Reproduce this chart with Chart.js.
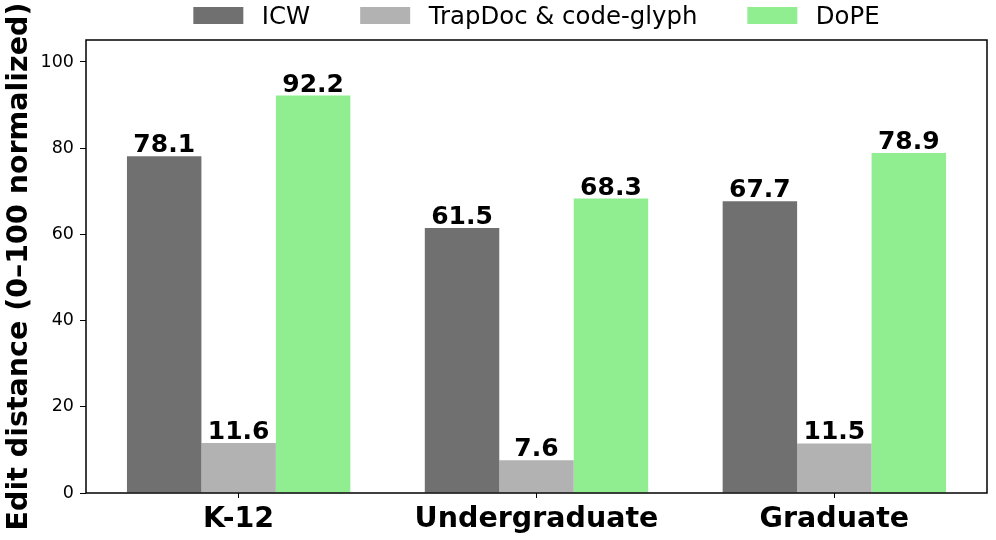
<!DOCTYPE html>
<html lang="en">
<head>
    <meta charset="UTF-8">
    <title>Edit distance by level</title>
    <script src="https://cdn.jsdelivr.net/npm/chart.js"></script>
    <style>
        html, body { margin: 0; padding: 0; background: #ffffff; }
        #wrap { width: 996px; height: 540px; position: relative; }
    </style>
</head>
<body>
    <div id="wrap">
        <canvas id="editChart"></canvas>
    </div>

    <script>
        // Data
        const levels = ['K-12', 'Undergraduate', 'Graduate'];
        const seriesNames = ['ICW', 'TrapDoc & code-glyph', 'DoPE'];
        const icwValues = [78.1, 61.5, 67.7];
        const trapdocValues = [11.6, 7.6, 11.5];
        const dopeValues = [92.2, 68.3, 78.9];
        const yTicks = [0, 20, 40, 60, 80, 100];
        const yMax = 105.1;

        const colors = ['#707070', '#b2b2b2', '#90ee90'];
        const FONT = "'DejaVu Sans', sans-serif";
        // matplotlib-like x margins around the bar groups
        const xPad = 0.5125;

        const toPoints = vals => vals.map((v, i) => ({ x: i, y: v }));

        // Full box around the plot area, like matplotlib spines
        const frame = {
            id: 'frame',
            afterDatasetsDraw(chart) {
                const { ctx, chartArea: a } = chart;
                ctx.save();
                ctx.strokeStyle = '#000000';
                ctx.lineWidth = 1.5;
                ctx.strokeRect(a.left, a.top, a.right - a.left, a.bottom - a.top);
                ctx.restore();
            }
        };

        // Value labels above each bar
        const barLabels = {
            id: 'barLabels',
            afterDatasetsDraw(chart) {
                const { ctx } = chart;
                ctx.save();
                ctx.font = 'bold 25px ' + FONT;
                ctx.fillStyle = '#000000';
                ctx.textAlign = 'center';
                ctx.textBaseline = 'alphabetic';
                chart.data.datasets.forEach((ds, i) => {
                    chart.getDatasetMeta(i).data.forEach((bar, j) => {
                        ctx.fillText(ds.data[j].y.toFixed(1), bar.x, bar.y - 4);
                    });
                });
                ctx.restore();
            }
        };

        // Legend row on top, centred over the plot area
        const topLegend = {
            id: 'topLegend',
            afterDraw(chart) {
                const { ctx, chartArea: a } = chart;
                const boxW = 50, boxH = 17, textGap = 18.5, itemGap = 50;
                ctx.save();
                ctx.font = '24.4px ' + FONT;
                const widths = chart.data.datasets.map(ds => ctx.measureText(ds.label).width);
                const total = widths.reduce((s, w) => s + boxW + textGap + w, 0) + itemGap * (widths.length - 1);
                let x = (a.left + a.right) / 2 - total / 2;
                ctx.textBaseline = 'alphabetic';
                chart.data.datasets.forEach((ds, i) => {
                    ctx.fillStyle = ds.backgroundColor;
                    ctx.fillRect(x, 7, boxW, boxH);
                    ctx.fillStyle = '#000000';
                    ctx.fillText(ds.label, x + boxW + textGap, 24);
                    x += boxW + textGap + widths[i] + itemGap;
                });
                ctx.restore();
            }
        };

        new Chart(document.getElementById('editChart'), {
            type: 'bar',
            data: {
                datasets: [
                    { label: seriesNames[0], data: toPoints(icwValues), backgroundColor: colors[0] },
                    { label: seriesNames[1], data: toPoints(trapdocValues), backgroundColor: colors[1] },
                    { label: seriesNames[2], data: toPoints(dopeValues), backgroundColor: colors[2] }
                ]
            },
            options: {
                responsive: true,
                maintainAspectRatio: false,
                animation: false,
                events: [],
                datasets: {
                    bar: { categoryPercentage: 0.75, barPercentage: 1.0, borderWidth: 0 }
                },
                layout: { padding: { top: 40, right: 9, left: 0, bottom: 0 } },
                plugins: {
                    legend: { display: false },
                    tooltip: { enabled: false }
                },
                scales: {
                    x: {
                        type: 'linear',
                        min: -xPad,
                        max: levels.length - 1 + xPad,
                        offset: false,
                        border: { display: false },
                        grid: { offset: false, drawOnChartArea: false, drawTicks: true, tickLength: 5, tickColor: '#000000' },
                        ticks: {
                            color: '#000000',
                            padding: 4,
                            font: { family: FONT, size: 28.5, weight: 'bold' },
                            callback: v => levels[v]
                        },
                        afterBuildTicks(scale) { scale.ticks = levels.map((_, i) => ({ value: i })); },
                        afterFit(scale) { scale.height = 47; }
                    },
                    y: {
                        min: 0,
                        max: yMax,
                        border: { display: false },
                        grid: { drawOnChartArea: false, drawTicks: true, tickLength: 6, tickColor: '#000000' },
                        ticks: { color: '#000000', padding: 6, font: { family: FONT, size: 17.5 } },
                        afterBuildTicks(scale) { scale.ticks = yTicks.map(v => ({ value: v })); },
                        afterFit(scale) { scale.width = 86; },
                        title: {
                            display: true,
                            text: 'Edit distance (0\u2013100 normalized)',
                            color: '#000000',
                            padding: { top: 2, bottom: 2 },
                            font: { family: FONT, size: 28.5, weight: 'bold' }
                        }
                    }
                }
            },
            plugins: [frame, barLabels, topLegend]
        });
    </script>
</body>
</html>
